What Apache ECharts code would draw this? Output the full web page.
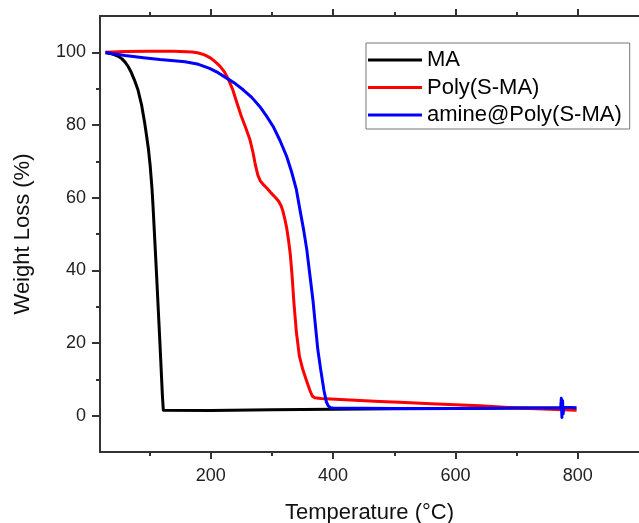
<!DOCTYPE html>
<html>
<head>
<meta charset="utf-8">
<script src="https://cdn.jsdelivr.net/npm/echarts@6/dist/echarts.min.js"></script>
<style>
  html, body { margin: 0; padding: 0; background: #fff; }
  #chart { width: 639px; height: 523px; }
</style>
</head>
<body>
<div id="chart"></div>
<script>
// TGA curves (temperature in °C, weight in %)
const maTemp = [28, 35, 43, 50, 55, 60, 65, 70, 75, 81, 87, 92, 95, 98, 101, 104, 105.7, 111.3, 116.7, 121, 122.5, 125, 200, 300, 400, 500, 600, 700, 780];
const maWeight = [99.9, 99.7, 99.3, 98.8, 98.2, 97.3, 96.1, 94.5, 92.5, 89.7, 85.5, 80.6, 77.2, 73.6, 68.8, 62.5, 57.6, 39.3, 20.9, 5.5, 1.5, 1.2, 1.4, 1.6, 1.8, 1.9, 2.0, 2.1, 2.1];

const polyTemp = [28, 60, 100, 140, 170, 180, 190, 200, 208, 215, 222, 228, 236, 243, 250, 257, 264, 269, 273, 277, 281, 286, 292, 298, 305, 311, 315, 318, 321, 324, 327, 330, 333, 336, 340, 345, 350, 356, 362, 366, 370, 380, 420, 476, 509, 560, 640, 700, 798];
const polyWeight = [100, 100.2, 100.3, 100.3, 100.1, 99.8, 99.3, 98.4, 97.3, 96.2, 94.7, 92.9, 89.7, 86.0, 82.4, 79.3, 76.0, 72.5, 69.0, 66.2, 64.6, 63.6, 62.6, 61.4, 60.2, 59.0, 57.8, 56.3, 54.2, 51.8, 48.5, 44.5, 38.5, 31.0, 23.0, 16.3, 13.0, 9.9, 7.0, 5.4, 4.9, 4.7, 4.4, 3.9, 3.7, 3.3, 2.75, 2.1, 1.5];

const amineTemp = [28, 40, 60, 90, 117, 140, 158, 180, 198, 212, 226, 240, 253, 267, 280, 291, 302, 313, 324, 332, 340, 346, 352, 357, 362, 367, 371, 375, 380, 385, 389, 392, 396, 400, 500, 600, 700, 772, 773, 774, 775, 776, 777, 798];
const amineWeight = [100, 99.6, 99.1, 98.5, 98.0, 97.7, 97.4, 96.7, 95.6, 94.4, 92.9, 91.4, 89.7, 87.6, 85.1, 82.5, 79.6, 75.8, 71.4, 67.2, 62.2, 56.5, 51.0, 45.7, 38.8, 31.9, 25.0, 18.2, 12.4, 7.0, 3.8, 2.7, 2.2, 2.1, 2.0, 2.0, 2.1, 2.2, 4.8, -0.5, 4.2, 0.5, 2.3, 2.2];

const seriesNames = ['MA', 'Poly(S-MA)', 'amine@Poly(S-MA)'];
const seriesColors = ['#000000', '#ff0000', '#0000ff'];

const xMajor = [200, 400, 600, 800];
const xMinor = [100, 300, 500, 700];
const yMajor = [0, 20, 40, 60, 80, 100];
const yMinor = [10, 30, 50, 70, 90];

const zip = (xs, ys) => xs.map((x, i) => [x, ys[i]]);

const axisColor = '#333';
const font = 'Liberation Sans, Arial, sans-serif';

const xBase = {
  type: 'value', min: 19, max: 900, gridIndex: 0,
  splitLine: { show: false }
};
const yBase = {
  type: 'value', min: -10, max: 110, gridIndex: 0,
  splitLine: { show: false }
};

const chart = echarts.init(document.getElementById('chart'));
chart.setOption({
  backgroundColor: '#fff',
  animation: false,
  grid: { left: 100, top: 16, right: 0, bottom: 71, outerBoundsMode: 'none' },
  legend: {
    data: seriesNames,
    orient: 'vertical',
    left: 366, top: 43,
    padding: [6, 8, 3, 2],
    itemGap: 5.5,
    icon: 'rect',
    itemWidth: 54, itemHeight: 3,
    borderColor: '#777', borderWidth: 1,
    textStyle: { fontSize: 22, lineHeight: 22, color: '#000', fontFamily: font }
  },
  xAxis: [
    Object.assign({}, xBase, {
      position: 'bottom',
      axisLine: { onZero: false, lineStyle: { color: axisColor, width: 2 } },
      axisTick: { customValues: xMajor, length: 7, lineStyle: { color: axisColor, width: 2 } },
      axisLabel: { customValues: xMajor, fontSize: 18, color: '#222', margin: 15, fontFamily: font },
      name: 'Temperature (°C)',
      nameLocation: 'middle', nameGap: 50,
      nameTextStyle: { fontSize: 22, color: '#111', fontFamily: font }
    }),
    Object.assign({}, xBase, {
      position: 'bottom',
      axisLine: { show: false, onZero: false },
      axisTick: { customValues: xMinor, length: 4, lineStyle: { color: axisColor, width: 2 } },
      axisLabel: { show: false }
    }),
    Object.assign({}, xBase, {
      position: 'top',
      axisLine: { onZero: false, lineStyle: { color: axisColor, width: 2 } },
      axisTick: { customValues: xMajor, length: 7, lineStyle: { color: axisColor, width: 2 } },
      axisLabel: { show: false }
    }),
    Object.assign({}, xBase, {
      position: 'top',
      axisLine: { show: false, onZero: false },
      axisTick: { customValues: xMinor, length: 4, lineStyle: { color: axisColor, width: 2 } },
      axisLabel: { show: false }
    })
  ],
  yAxis: [
    Object.assign({}, yBase, {
      position: 'left',
      axisLine: { show: true, onZero: false, lineStyle: { color: axisColor, width: 2 } },
      axisTick: { show: true, customValues: yMajor, length: 8, lineStyle: { color: axisColor, width: 2 } },
      axisLabel: { customValues: yMajor, fontSize: 18, color: '#222', margin: 14, fontFamily: font },
      name: 'Weight Loss (%)',
      nameLocation: 'middle', nameGap: 66,
      nameTextStyle: { fontSize: 22, color: '#111', fontFamily: font }
    }),
    Object.assign({}, yBase, {
      position: 'left',
      axisLine: { show: false, onZero: false },
      axisTick: { show: true, customValues: yMinor, length: 4, lineStyle: { color: axisColor, width: 2 } },
      axisLabel: { show: false }
    })
  ],
  series: [
    { name: seriesNames[0], data: zip(maTemp, maWeight) },
    { name: seriesNames[1], data: zip(polyTemp, polyWeight) },
    { name: seriesNames[2], data: zip(amineTemp, amineWeight) }
  ].map((s, i) => Object.assign(s, {
    type: 'line',
    xAxisIndex: 0, yAxisIndex: 0,
    symbol: 'none',
    color: seriesColors[i],
    lineStyle: { color: seriesColors[i], width: 3, join: 'round' }
  }))
});
</script>
</body>
</html>
